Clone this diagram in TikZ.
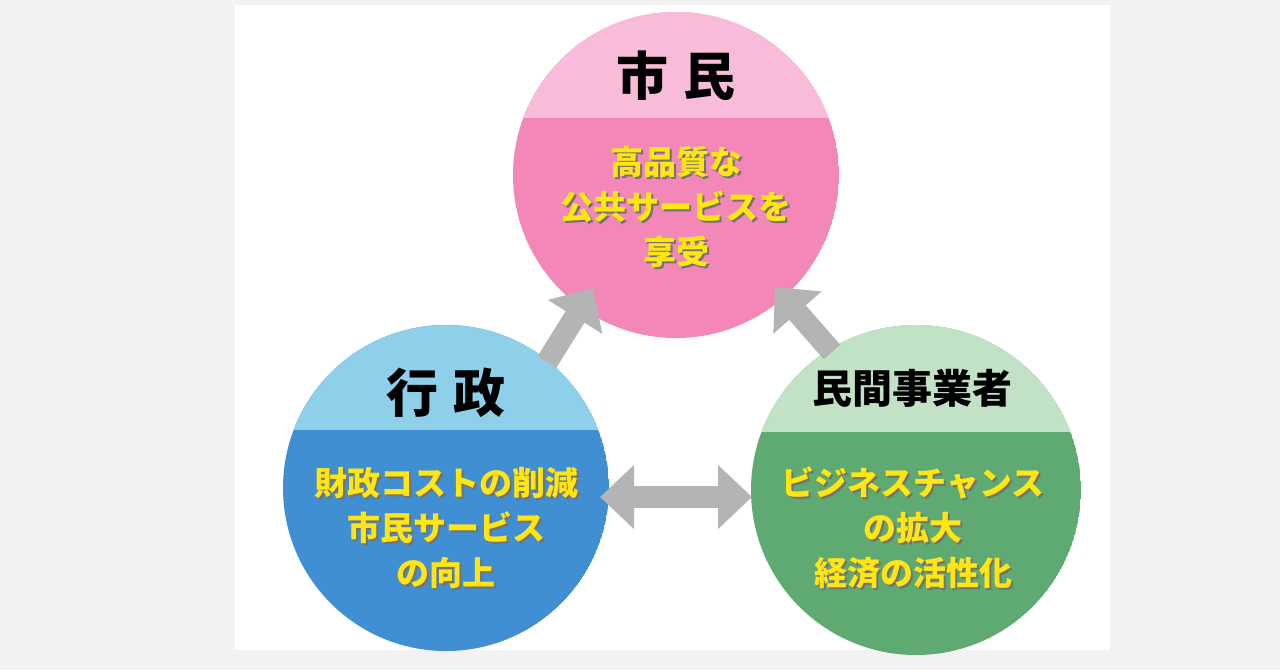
\documentclass[tikz,border=0pt]{standalone}
\usepackage{fontspec}
\newfontfamily\cjk{Noto Sans CJK JP}
\usetikzlibrary{arrows.meta}
\definecolor{bggray}{HTML}{F2F2F2}
\definecolor{pinkL}{HTML}{F8BCDA}
\definecolor{pinkD}{HTML}{F287B8}
\definecolor{blueL}{HTML}{8ED0EA}
\definecolor{blueD}{HTML}{3F8FD2}
\definecolor{greenL}{HTML}{C2E2C6}
\definecolor{greenD}{HTML}{5EAA72}
\definecolor{ytext}{HTML}{FFE512}
\definecolor{arrowgray}{HTML}{B4B4B4}
\tikzset{
  ttl/.style={font=\cjk\bfseries\fontsize{52}{56}\selectfont, text=black},
  body/.style={font=\cjk\bfseries\fontsize{33}{45}\selectfont, text=ytext, align=center},
  shad/.style={font=\cjk\bfseries\fontsize{33}{45}\selectfont, text=black!55, align=center},
  blk/.style={draw=arrowgray, line width=22pt, -{Triangle[width=62pt,length=34pt]}},
  blk2/.style={draw=arrowgray, line width=22pt, {Triangle[width=62pt,length=34pt]}-{Triangle[width=62pt,length=34pt]}},
}
\begin{document}
\begin{tikzpicture}[x=1pt,y=-1pt]
\fill[bggray] (0,0) rectangle (1280,670);
\fill[white] (235,5) rectangle (1110,650);
\useasboundingbox (0,0) rectangle (1280,670);
% circles
\coordinate (P) at (676,175);
\coordinate (B) at (446,488);
\coordinate (G) at (916,490);
\begin{scope}
\clip (P) circle (163);
\fill[pinkD] (P) circle (163);
\fill[pinkL] (500,0) rectangle (860,118);
\end{scope}
\begin{scope}
\clip (B) circle (163);
\fill[blueD] (B) circle (163);
\fill[blueL] (270,300) rectangle (620,430);
\end{scope}
\begin{scope}
\clip (G) circle (165);
\fill[greenD] (G) circle (165);
\fill[greenL] (740,300) rectangle (1090,432);
\end{scope}
% arrows
\coordinate (a1s) at (547,362);
\coordinate (a1e) at (593,288);
\coordinate (a2s) at (832,352);
\coordinate (a2e) at (775,287);
\coordinate (a3s) at (600,497);
\coordinate (a3e) at (752,497);
\draw[blk] (a1s) -- (a1e);
\draw[blk] (a2s) -- (a2e);
\draw[blk2] (a3s) -- (a3e);
% titles
\node[ttl] (t1) at (676,76) {市\hspace{0.3em}民};
\node[ttl] (t2) at (446,393) {行\hspace{0.3em}政};
\node[ttl, font=\cjk\bfseries\fontsize{40}{44}\selectfont] (t3) at (912,388) {民間事業者};
% body texts with shadow
\node[shad] at (678,209) {高品質な\\公共サービスを\\享受};
\node[body] (b1) at (676,207) {高品質な\\公共サービスを\\享受};
\node[shad] at (448,530) {財政コストの削減\\市民サービス\\の向上};
\node[body] (b2) at (446,528) {財政コストの削減\\市民サービス\\の向上};
\node[shad] at (915,530) {ビジネスチャンス\\の拡大\\経済の活性化};
\node[body] (b3) at (913,528) {ビジネスチャンス\\の拡大\\経済の活性化};
\end{tikzpicture}
\end{document}
